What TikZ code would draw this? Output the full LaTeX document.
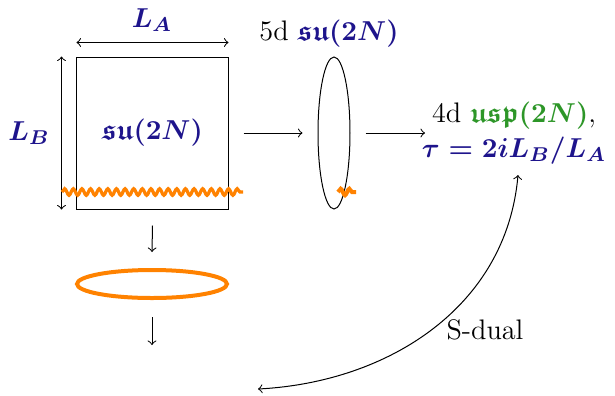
\documentclass[tikz,border=0pt]{standalone}
\usepackage{amsmath,amssymb}
\usetikzlibrary{shapes.geometric,decorations.pathmorphing}
\definecolor{myblue}{RGB}{30,20,140}
\definecolor{mygreen}{RGB}{45,150,40}
\definecolor{myorange}{RGB}{255,130,0}
\newcommand\fsz{\fontsize{11.3}{13.5}\selectfont}
\tikzset{
  lbl/.style={font=\fsz\boldmath, text=black},
  bl/.style={font=\fsz\boldmath, text=myblue},
  thinline/.style={line width=0.4pt},
  wave/.style={draw=myorange, line width=1.3pt, decorate,
    decoration={snake, segment length=3.45pt, amplitude=1.3pt}},
}
\begin{document}
\begin{tikzpicture}[x=0.4pt,y=-0.4pt]
\useasboundingbox (0,0) rectangle (615,395);
% square
\node[draw, thinline, minimum width=60.4pt, minimum height=60.8pt, inner sep=0, bl] (sq) at (152.5,133) {$\mathfrak{su}(2N)$};
\node[bl] (la) at (152,20) {$L_A$};
\node[bl] (lb) at (29,133) {$L_B$};
\draw[<->, thinline] ([yshift=5.6pt]sq.north west) -- ([yshift=5.6pt]sq.north east);
\draw[<->, thinline] ([xshift=-6pt]sq.north west) -- ([xshift=-6pt]sq.south west);
% wavy line across bottom
\coordinate (w1) at (62,192);
\coordinate (w2) at (243,192);
\draw[wave] (w1) -- (w2);
% ellipse
\node[draw, thinline, ellipse, minimum width=12.8pt, minimum height=60.8pt, inner sep=0] (ell) at (334,133) {};
\node[lbl] (fived) at (329,34) {5d \textcolor{myblue}{$\mathfrak{su}(2N)$}};
\coordinate (s1) at (338,192);
\coordinate (s2) at (356,192);
\draw[wave, line width=1.6pt] (s1) -- (s2);
% arrows
\draw[->, thinline] ([xshift=6pt]sq.east) -- ([xshift=-6pt]ell.west);
% 4d node
\node[lbl, align=center, inner sep=0] (fourd) at (514,133) {4d \textcolor{mygreen}{$\mathfrak{usp}(2N)$},\\[0.5pt] \textcolor{myblue}{$\tau=2iL_B/L_A$}};
\coordinate (a4) at (425,133);
\draw[->, thinline] ([xshift=6pt]ell.east) -- (a4);
% down column
\node[draw=myorange, line width=1.6pt, ellipse, minimum width=60pt, minimum height=11.2pt, inner sep=0] (oell) at (152,284) {};
\draw[->, thinline] ([yshift=-6.4pt]sq.south) -- ([yshift=6.4pt]oell.north);
\coordinate (bot) at (152,345);
\draw[->, thinline] ([yshift=-6.8pt]oell.south) -- (bot);
% S-dual
\coordinate (sd1) at (258,389);
\coordinate (sd2) at (518,175);
\draw[<->, thinline] (sd1) to[out=3, in=-95] (sd2);
\node[lbl] (sdual) at (485,330) {S-dual};
\end{tikzpicture}
\end{document}
